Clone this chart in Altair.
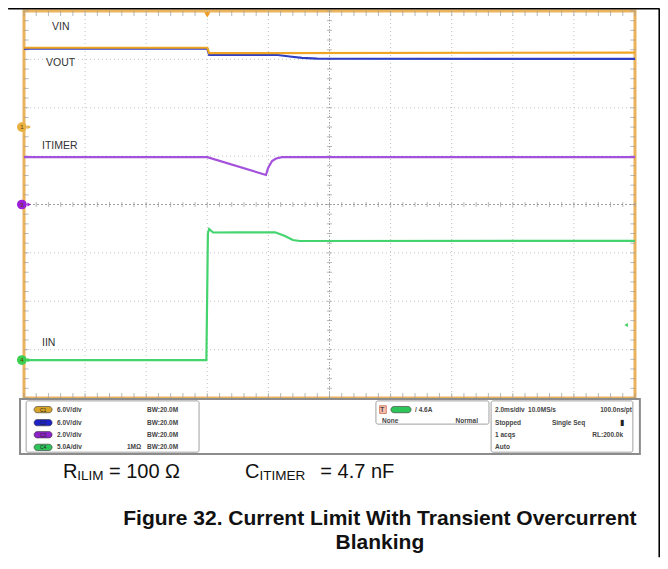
import altair as alt
import pandas as pd
import numpy as np

# ---- scope traces: time in ms (trigger at 0, 2 ms/div), vertical in divisions ----
vin_t = [-6, 0.0, 0.06, 14]
vin_v = [3.24, 3.24, 3.13, 3.14]
vout_t = [-6, 0.0, 0.06, 2.3, 2.7, 3.1, 3.6, 14]
vout_v = [3.22, 3.22, 3.09, 3.09, 3.06, 3.03, 3.015, 3.01]
itimer_t = [-6, 0.0, 1.92, 1.99, 2.12, 2.25, 2.45, 14]
itimer_v = [0.98, 0.98, 0.61, 0.755, 0.90, 0.95, 0.98, 0.98]
iin_t = [-6, -0.03, 0.02, 0.06, 0.19, 1.0, 2.22, 2.54, 2.8, 3.03, 14]
iin_v = [-3.215, -3.215, -0.6, -0.506, -0.579, -0.575, -0.575, -0.65, -0.734, -0.755, -0.75]

trace_names = ["VOUT", "VIN", "ITIMER", "IIN"]
trace_colors = ["#2f3fc4", "#f0a424", "#a452dc", "#44d46e"]

# graticule
grid_x = [-6, -4, -2, 0, 2, 4, 6, 8, 10, 12, 14]
grid_y = [-4, -3, -2, -1, 0, 1, 2, 3, 4]

# labels on the screen
lab_text = ["VIN", "VOUT", "ITIMER", "IIN"]
lab_t = [-5.08, -5.28, -5.41, -5.41]
lab_y = [3.67, 2.925, 1.21, -2.863]

# channel markers on left edge
mk_text = ["1", "3", "4"]
mk_y = [1.60, 0.0, -3.215]
mk_col = ["#e8b040", "#9b1fd8", "#3cd050"]

# info panel
pill_lab = ["C1", "C2", "C3", "C4"]
pill_col = ["#d9a528", "#1c22c8", "#8e24c8", "#2fc45a"]
row_y = [-4.24, -4.51, -4.76, -5.02]
scale_txt = ["6.0V/div", "6.0V/div", "2.0V/div", "5.0A/div"]
bw_txt = ["BW:20.0M", "BW:20.0M", "BW:20.0M", "BW:20.0M"]

SX = alt.Scale(domain=[-6, 14], nice=False, zero=False)
SY = alt.Scale(domain=[-4, 4], nice=False, zero=False)


def X(f):
    return alt.X(f, type="quantitative", scale=SX, axis=None)


def Y(f):
    return alt.Y(f, type="quantitative", scale=SY, axis=None)


layers = []

# gridlines
gx = pd.DataFrame({"t": grid_x[1:-1]})
gy = pd.DataFrame({"v": grid_y[1:-1]})
layers.append(alt.Chart(gx).mark_rule(color="#c2c2c2", strokeDash=[1, 3], strokeWidth=1).encode(x=X("t")))
layers.append(alt.Chart(gy).mark_rule(color="#c2c2c2", strokeDash=[1, 3], strokeWidth=1).encode(y=Y("v")))
layers.append(alt.Chart(pd.DataFrame({"t": [4]})).mark_rule(color="#a8a8a8", strokeDash=[1, 2], strokeWidth=1).encode(x=X("t")))
layers.append(alt.Chart(pd.DataFrame({"v": [0]})).mark_rule(color="#a0a0a0", strokeDash=[2, 2], strokeWidth=1).encode(y=Y("v")))

# minor ticks along border and centre lines
tx = np.round(np.arange(-6, 14.001, 0.4), 3)
ty = np.round(np.arange(-4, 4.001, 0.2), 3)
tick_h = pd.DataFrame({"t": np.concatenate([tx, tx, tx]),
                       "v": np.concatenate([np.full(len(tx), 3.95), np.full(len(tx), -3.95), np.zeros(len(tx))])})
tick_v = pd.DataFrame({"t": np.concatenate([np.full(len(ty), -5.93), np.full(len(ty), 13.93), np.full(len(ty), 4.0)]),
                       "v": np.concatenate([ty, ty, ty])})
layers.append(alt.Chart(tick_h).mark_tick(orient="vertical", size=5, thickness=1, color="#9a9a9a").encode(x=X("t"), y=Y("v")))
layers.append(alt.Chart(tick_v).mark_tick(orient="horizontal", size=5, thickness=1, color="#9a9a9a").encode(x=X("t"), y=Y("v")))

# traces
series = {"VOUT": (vout_t, vout_v), "VIN": (vin_t, vin_v), "ITIMER": (itimer_t, itimer_v), "IIN": (iin_t, iin_v)}
for name, col in zip(trace_names, trace_colors):
    tt, vv = series[name]
    df = pd.DataFrame({"t": tt, "v": vv, "i": range(len(tt))})
    layers.append(alt.Chart(df).mark_line(color=col, strokeWidth=2.2).encode(x=X("t"), y=Y("v"), order="i:Q"))

# trace labels
ldf = pd.DataFrame({"t": lab_t, "v": lab_y, "txt": lab_text})
layers.append(alt.Chart(ldf).mark_text(align="left", baseline="middle", fontSize=10.5, font="Liberation Sans",
                                       color="#333333").encode(x=X("t"), y=Y("v"), text="txt:N"))

# channel markers
mdf = pd.DataFrame({"t": [-6.07] * 3, "v": mk_y, "txt": mk_text, "c": mk_col})
layers.append(alt.Chart(mdf).mark_point(filled=True, size=95, opacity=1).encode(
    x=X("t"), y=Y("v"), color=alt.Color("c:N", scale=None)))
mdf2 = mdf.assign(t=-5.83)
layers.append(alt.Chart(mdf2).mark_point(filled=True, size=18, shape="triangle-right", opacity=1).encode(
    x=X("t"), y=Y("v"), color=alt.Color("c:N", scale=None)))
layers.append(alt.Chart(mdf).mark_text(fontSize=6, color="#5a3a00", baseline="middle").encode(
    x=X("t"), y=Y("v"), text="txt:N"))

# trigger position marker (top) and trigger level marker (right)
layers.append(alt.Chart(pd.DataFrame({"t": [0.0], "v": [3.92]})).mark_point(
    filled=True, shape="triangle-down", size=40, color="#f09a20", opacity=1).encode(x=X("t"), y=Y("v")))
layers.append(alt.Chart(pd.DataFrame({"t": [13.71], "v": [-2.49]})).mark_point(
    filled=True, shape="triangle-left", size=16, color="#3cd060", opacity=1).encode(x=X("t"), y=Y("v")))

# ---- info panel ----
boxes = pd.DataFrame({
    "t1": [-6.13, -5.93, 5.52, 9.29],
    "t2": [14.16, -0.27, 9.22, 13.93],
    "y1": [-4.02, -4.06, -4.06, -4.06],
    "y2": [-5.16, -5.12, -4.54, -5.12],
    "k": ["outer", "a", "b", "c"],
})
layers.append(alt.Chart(boxes[boxes.k == "outer"]).mark_rect(fill="white", stroke="#8c8c8c", strokeWidth=2).encode(
    x=X("t1"), x2="t2", y=Y("y1"), y2="y2"))
layers.append(alt.Chart(boxes[boxes.k != "outer"]).mark_rect(fill="white", stroke="#a0a0a0", strokeWidth=1,
                                                               cornerRadius=2).encode(
    x=X("t1"), x2="t2", y=Y("y1"), y2="y2"))

pills = pd.DataFrame({"t1": [-5.67] * 4, "t2": [-5.08] * 4,
                      "y1": [y + 0.065 for y in row_y], "y2": [y - 0.065 for y in row_y],
                      "c": pill_col, "lab": pill_lab, "tm": [-5.375] * 4, "ym": row_y})
layers.append(alt.Chart(pills).mark_rect(cornerRadius=4, stroke="#333", strokeWidth=0.6).encode(
    x=X("t1"), x2="t2", y=Y("y1"), y2="y2", color=alt.Color("c:N", scale=None)))
layers.append(alt.Chart(pills).mark_text(fontSize=5, color="#222").encode(x=X("tm"), y=Y("ym"), text="lab:N"))

# trigger pill
tp = pd.DataFrame({"t1": [6.01], "t2": [6.67], "y1": [-4.175], "y2": [-4.305], "c": ["#2fc45a"]})
layers.append(alt.Chart(tp).mark_rect(cornerRadius=4, stroke="#333", strokeWidth=0.6).encode(
    x=X("t1"), x2="t2", y=Y("y1"), y2="y2", color=alt.Color("c:N", scale=None)))
tb = pd.DataFrame({"t1": [5.64], "t2": [5.86], "y1": [-4.16], "y2": [-4.32]})
layers.append(alt.Chart(tb).mark_rect(fill="#f6c2b0", stroke="#c04020", strokeWidth=0.6).encode(
    x=X("t1"), x2="t2", y=Y("y1"), y2="y2"))

PF = "Liberation Sans"
left_txt = pd.DataFrame({
    "t": [-4.92] * 4 + [-1.97] * 4 + [-2.63] + [5.66, 5.72, 6.8] + [9.42, 10.5, 9.42, 11.28, 9.42, 9.42],
    "v": row_y + row_y + [row_y[3]] + [-4.245, -4.47, -4.24] + [-4.24, -4.24, -4.51, -4.51, -4.76, -5.02],
    "txt": scale_txt + bw_txt + ["1MΩ"] + ["T", "None", "/ 4.6A"] +
           ["2.0ms/div", "10.0MS/s", "Stopped", "Single Seq", "1 acqs", "Auto"],
})
right_txt = pd.DataFrame({
    "t": [8.86, 13.9, 13.61],
    "v": [-4.47, -4.24, -4.76],
    "txt": ["Normal", "100.0ns/pt", "RL:200.0k"],
})
layers.append(alt.Chart(left_txt).mark_text(align="left", baseline="middle", fontSize=6.5, font=PF,
                                            fontWeight="bold", color="#444").encode(
    x=X("t"), y=Y("v"), text="txt:N"))
layers.append(alt.Chart(right_txt).mark_text(align="right", baseline="middle", fontSize=6.5, font=PF,
                                             fontWeight="bold", color="#444").encode(
    x=X("t"), y=Y("v"), text="txt:N"))
layers.append(alt.Chart(pd.DataFrame({"t": [13.57], "v": [-4.51]})).mark_text(
    text="▮", fontSize=8, color="#222").encode(x=X("t"), y=Y("v")))

# ---- caption ----
cap_main = pd.DataFrame({"t": [-4.72, -3.22, 1.23, 3.70],
                         "v": [-5.53] * 4,
                         "txt": ["R", "= 100 Ω", "C", "= 4.7 nF"]})
cap_sub = pd.DataFrame({"t": [-4.26, 1.71], "v": [-5.61] * 2, "txt": ["ILIM", "ITIMER"]})
layers.append(alt.Chart(cap_main).mark_text(align="left", baseline="middle", fontSize=20,
                                            font="Liberation Sans", color="#111").encode(
    x=X("t"), y=Y("v"), text="txt:N"))
layers.append(alt.Chart(cap_sub).mark_text(align="left", baseline="middle", fontSize=13.5,
                                           font="Liberation Sans", color="#111").encode(
    x=X("t"), y=Y("v"), text="txt:N"))

title_df = pd.DataFrame({"t": [5.65, 5.65], "v": [-6.50, -6.997],
                         "txt": ["Figure 32. Current Limit With Transient Overcurrent", "Blanking"]})
layers.append(alt.Chart(title_df).mark_text(align="center", baseline="middle", fontSize=21,
                                            font="Liberation Sans", fontWeight="bold", color="#111").encode(
    x=X("t"), y=Y("v"), text="txt:N"))

# document frame lines
fr_h = pd.DataFrame({"t1": [-6.52], "t2": [14.80], "v": [4.05]})
fr_v = pd.DataFrame({"t": [14.80], "y1": [4.05], "y2": [-7.29]})
layers.append(alt.Chart(fr_h).mark_rule(color="black", strokeWidth=2).encode(x=X("t1"), x2="t2", y=Y("v")))
layers.append(alt.Chart(fr_v).mark_rule(color="black", strokeWidth=2).encode(x=X("t"), y=Y("y1"), y2="y2"))

chart = alt.layer(*layers).properties(
    width=611, height=387,
    autosize=alt.AutoSizeParams(type="none"),
    padding={"left": 16, "top": 3, "right": 25, "bottom": 163},
    background="white",
).configure_view(stroke="#ebb35c", strokeWidth=3)

chart.save("out.html", embed_options={"renderer": "svg", "actions": False})
